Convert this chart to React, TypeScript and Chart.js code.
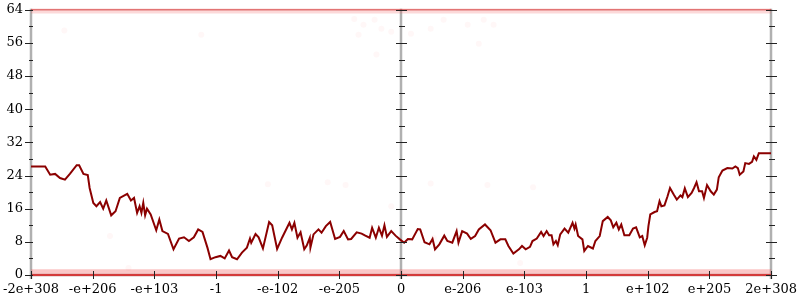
import React, { useEffect, useRef } from "react";
import { Chart, registerables } from "chart.js";

Chart.register(...registerables);

const tickLabels = ["-2e+308", "-e+206", "-e+103", "-1", "-e-102", "-e-205", "0", "e-206", "e-103", "1", "e+102", "e+205", "2e+308"];

const lineX = [-600,-577,-569,-561,-553,-545,-537,-526,-522,-515,-508,-505,-499,-494,-488,-483,-478,-470,-463,-456,-444,-438,-433,-428,-424,-421,-418,-415,-412,-406,-397,-392,-387,-378,-369,-360,-352,-344,-336,-329,-322,-314,-309,-301,-293,-286,-279,-274,-266,-258,-250,-245,-243,-236,-231,-224,-214,-209,-201,-193,-185,-181,-177,-173,-168,-163,-157,-153,-148,-147,-142,-134,-129,-122,-115,-107,-99,-93,-86,-81,-72,-64,-58,-51,-47,-41,-36,-31,-27,-23,-16,-9,-2,5,11,18,27,31,38,46,51,55,62,70,75,83,90,93,99,107,113,120,126,136,145,153,161,169,174,182,191,196,202,209,213,220,227,231,236,240,244,247,251,254,258,265,271,278,281,283,287,294,297,303,311,315,322,327,335,340,344,349,353,357,362,370,376,381,387,391,395,399,401,404,411,415,419,422,427,432,436,442,447,453,456,460,465,471,475,479,483,488,491,496,502,507,512,515,521,529,537,542,546,549,555,558,564,569,572,576,580,588,600];

const lineY = [26.2,26.2,24.2,24.4,23.4,23.0,24.4,26.5,26.5,24.4,24.1,21.0,17.4,16.6,17.6,16.0,18.0,14.4,15.4,18.6,19.6,18.0,18.6,15.0,16.6,15.0,17.4,14.4,16.0,14.6,10.8,13.4,10.6,9.9,6.2,8.8,9.1,8.2,9.1,11.0,10.4,6.6,3.8,4.3,4.6,4.0,5.9,4.3,3.8,5.4,6.6,8.8,7.8,9.9,9.1,6.4,12.8,12.0,6.3,9.0,11.4,12.6,11.0,12.6,9.0,10.3,6.2,7.1,9.0,6.6,9.8,11.0,10.2,11.8,12.8,8.7,9.2,10.6,8.6,8.7,10.3,10.0,9.5,9.0,11.4,9.0,11.4,9.5,12.0,9.2,10.6,9.5,8.6,7.8,8.7,8.6,11.1,11.0,7.9,7.4,8.7,6.2,7.4,9.5,8.2,7.8,10.6,7.8,10.6,10.0,8.7,9.4,11.0,12.2,10.8,7.8,8.6,8.6,7.0,5.2,6.2,7.0,6.2,6.8,8.2,8.8,10.4,9.4,10.6,9.6,9.6,7.4,8.2,7.2,9.8,11.2,10.2,12.6,11.2,12.2,9.4,8.6,5.8,7.0,6.4,8.2,9.4,13.0,14.0,13.2,11.5,12.6,11.0,12.2,9.6,9.6,11.2,11.5,9.1,9.4,7.2,9.0,11.8,14.6,15.2,15.4,17.8,16.6,16.8,19.0,21.0,19.4,18.2,19.2,18.8,20.9,18.8,19.8,21.0,22.4,20.2,20.2,18.6,21.7,20.2,19.4,20.6,23.6,25.2,25.8,25.7,26.2,25.8,24.2,25.0,27.0,26.8,27.3,28.6,27.8,29.4,29.4,29.4];

const bandX = [-600, 600];
const bottomBandY = [0, 0];
const topBandY = [64, 64];

const dotX = [-546,-324,-472,-442,-216,-119,-90,-16,48,140,214,53,193,-76,-69,-61,-43,-32,-16,16,-40,48,69,108,134,150,126];
const dotY = [59.0,58.0,9.4,1.7,21.9,22.4,21.7,16.6,22.1,21.7,21.2,8.9,2.9,61.8,58.0,60.4,61.6,59.4,58.7,58.2,53.2,59.4,61.6,60.4,61.6,60.4,55.8];

const zip = (xs: number[], ys: number[]) => xs.map((x, i) => ({ x, y: ys[i] }));

const axesPlugin = {
  id: "customAxes",
  beforeDatasetsDraw(chart: any) {
    const { ctx, scales } = chart;
    const xs = scales.x, ys = scales.y;
    const top = ys.getPixelForValue(64), bottom = ys.getPixelForValue(0);
    ctx.save();
    ctx.strokeStyle = "#b0b0b0";
    ctx.lineWidth = 2.5;
    for (const v of [-600, 0, 600]) {
      const px = Math.round(xs.getPixelForValue(v));
      ctx.beginPath();
      ctx.moveTo(px, top - 1);
      ctx.lineTo(px, bottom + 4);
      ctx.stroke();
    }
    ctx.beginPath();
    ctx.moveTo(xs.getPixelForValue(-600), bottom);
    ctx.lineTo(xs.getPixelForValue(600), bottom);
    ctx.stroke();
    ctx.restore();
  },
  afterDatasetsDraw(chart: any) {
    const { ctx, scales } = chart;
    const xs = scales.x, ys = scales.y;
    ctx.save();
    ctx.strokeStyle = "#222";
    ctx.lineWidth = 1;
    const axes = [
      { v: -600, majL: 6, majR: 2, minL: 2, minR: 2 },
      { v: 0, majL: 5, majR: 6, minL: 2, minR: 4 },
      { v: 600, majL: 5, majR: 6, minL: 2, minR: 4 },
    ];
    for (const a of axes) {
      const px = Math.round(xs.getPixelForValue(a.v));
      for (let t = 0; t <= 64; t += 4) {
        const py = Math.round(ys.getPixelForValue(t)) + 0.5;
        const major = t % 8 === 0;
        ctx.beginPath();
        ctx.moveTo(px - (major ? a.majL : a.minL), py);
        ctx.lineTo(px + (major ? a.majR : a.minR), py);
        ctx.stroke();
      }
    }
    const by = ys.getPixelForValue(0);
    for (let v = -600; v <= 600; v += 100) {
      const px = Math.round(xs.getPixelForValue(v)) + 0.5;
      ctx.beginPath();
      ctx.moveTo(px, by - 4);
      ctx.lineTo(px, by + 4);
      ctx.stroke();
    }
    ctx.restore();
  },
};

export default function App() {
  const ref = useRef<HTMLCanvasElement>(null);
  useEffect(() => {
    document.body.style.margin = "0";
    const chart = new Chart(ref.current as HTMLCanvasElement, {
      type: "line",
      data: {
        datasets: [
          {
            data: zip(dotX, dotY),
            showLine: false,
            pointRadius: 3,
            pointBorderWidth: 0,
            pointBackgroundColor: "rgba(255,60,60,0.04)",
          } as any,
          {
            data: zip(bandX, bottomBandY.map((v) => v + 0.55)),
            borderColor: "rgba(240,70,70,0.3)",
            borderWidth: 7,
            pointRadius: 0,
            clip: false,
          },
          {
            data: zip(bandX, bottomBandY),
            borderColor: "rgba(205,25,25,0.8)",
            borderWidth: 1.8,
            pointRadius: 0,
            clip: false,
          },
          {
            data: zip(bandX, topBandY.map((v) => v - 0.3)),
            borderColor: "rgba(240,80,80,0.22)",
            borderWidth: 5,
            pointRadius: 0,
            clip: false,
          },
          {
            data: zip(bandX, topBandY),
            borderColor: "rgba(200,40,40,0.6)",
            borderWidth: 1.5,
            pointRadius: 0,
            clip: false,
          },
          {
            data: zip(lineX, lineY),
            borderColor: "#8b0000",
            borderWidth: 2,
            pointRadius: 0,
            tension: 0,
          },
        ],
      },
      options: {
        animation: false,
        responsive: false,
        maintainAspectRatio: false,
        layout: { padding: { left: 0, right: 27, top: 8, bottom: 0 } },
        plugins: { legend: { display: false }, tooltip: { enabled: false } },
        scales: {
          x: {
            type: "linear",
            min: -600,
            max: 600,
            afterFit: (s: any) => { s.height = 25; },
            border: { display: false },
            grid: { display: false, drawTicks: true, tickLength: 4 },
            ticks: {
              stepSize: 100,
              autoSkip: false,
              maxRotation: 0,
              padding: 3,
              color: "#000",
              font: { family: "DejaVu Serif", size: 13 },
              callback: (v: any) => tickLabels[Math.round((Number(v) + 600) / 100)] ?? "",
            },
          },
          y: {
            type: "linear",
            min: 0,
            max: 64,
            afterFit: (s: any) => { s.width = 28; },
            border: { display: false },
            grid: { display: false, drawTicks: true, tickLength: 6 },
            ticks: {
              stepSize: 8,
              padding: 2,
              color: "#000",
              font: { family: "DejaVu Serif", size: 13 },
            },
          },
        },
      },
      plugins: [axesPlugin],
    });
    return () => chart.destroy();
  }, []);
  return (
    <div style={{ width: 800, height: 300 }}>
      <canvas ref={ref} width={800} height={300} style={{ display: "block" }} />
    </div>
  );
}
